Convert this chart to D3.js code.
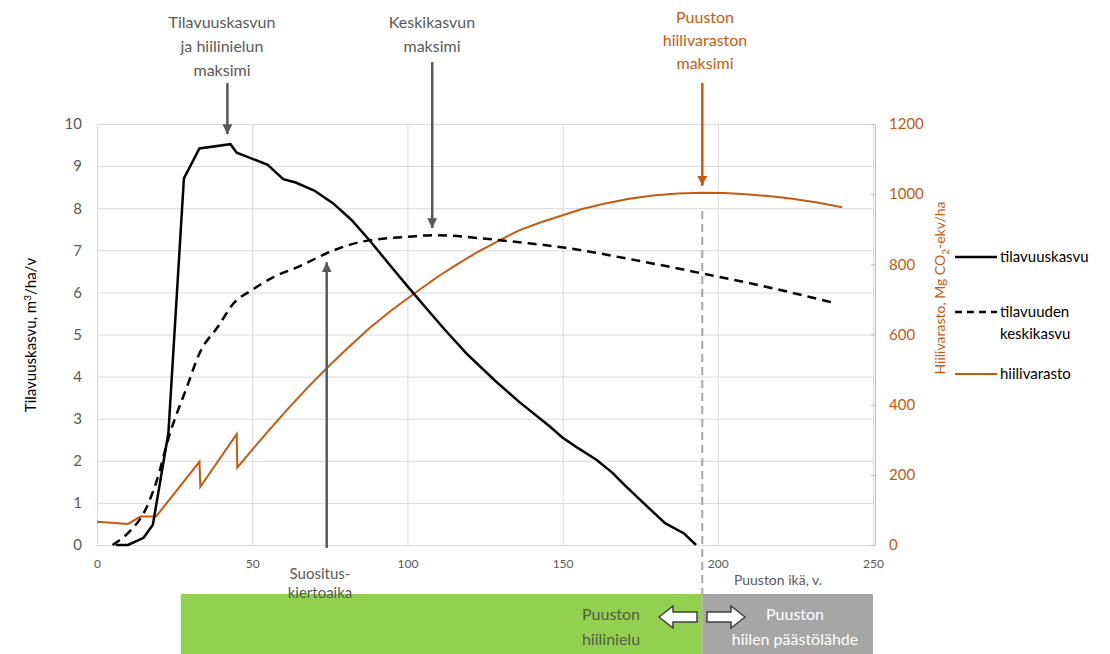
<!DOCTYPE html>
<html>
<head>
<meta charset="utf-8">
<script src="https://cdn.jsdelivr.net/npm/d3@7"></script>
<style>
  body { margin: 0; background: #fff; }
  svg { font-family: Lato, "Open Sans", sans-serif; }
  .grid line { stroke: #d9d9d9; stroke-width: 1; }
  .grid path { display: none; }
  .tick text { fill: #595959; }
</style>
</head>
<body>
<svg width="1110" height="654"></svg>
<script>
// puuston ikä (v) ja tilavuuskasvu (m3/ha/v)
var ageVol = [6, 10, 15, 18, 23, 28, 33, 43, 45, 55, 60, 64, 70, 76, 82, 88, 94, 100, 106, 112, 119, 128, 136, 146, 150, 155, 161, 166, 170, 175, 183, 189, 193]
var volGrowth = [0, 0, 0.17, 0.48, 2.66, 8.71, 9.42, 9.52, 9.32, 9.03, 8.69, 8.61, 8.42, 8.12, 7.72, 7.22, 6.68, 6.15, 5.63, 5.12, 4.55, 3.92, 3.40, 2.81, 2.55, 2.30, 2.02, 1.72, 1.42, 1.07, 0.52, 0.28, 0]

// tilavuuden keskikasvu
var ageMean = [5, 11, 15, 19, 23.5, 29, 33, 39, 44, 50, 57, 65, 74, 85, 100, 109, 123, 136, 151, 171, 195, 214, 238]
var meanGrowth = [0, 0.36, 0.75, 1.47, 2.65, 3.76, 4.55, 5.19, 5.74, 6.06, 6.37, 6.61, 6.93, 7.20, 7.32, 7.36, 7.29, 7.19, 7.06, 6.80, 6.45, 6.16, 5.74]

// hiilivarasto (Mg CO2-ekv/ha)
var ageCarbon = [0, 10, 14, 19, 33, 33.3, 45, 45.2, 51, 56, 62, 68, 74, 80, 88, 95, 103, 110, 116, 123, 130, 136, 143, 150, 156, 163, 171, 179, 187, 195, 202, 209, 217, 224, 232, 240]
var carbon = [66, 60, 81, 81, 237, 166, 316, 221, 282, 333, 393, 450, 504, 555, 620, 670, 722, 766, 800, 837, 870, 897, 920, 940, 957, 972, 986, 996, 1002, 1004, 1003, 1000, 994, 987, 976, 963]

var xTicks = [0, 50, 100, 150, 200, 250]
var leftTicks = [0, 1, 2, 3, 4, 5, 6, 7, 8, 9, 10]
var rightTicks = [0, 200, 400, 600, 800, 1000, 1200]

// key ages used by the annotations
var ageVolMax = 42
var ageMeanMax = 108
var ageRotation = 74
var ageCarbonMax = 195
var barStart = 27

var orange = "#c55a11"
var gray = "#595959"

var svg = d3.select("svg")

var xScale = d3.scaleLinear().domain([0, 250]).range([97, 873])
var yScale = d3.scaleLinear().domain([0, 10]).range([545, 124])
var yRight = d3.scaleLinear().domain([0, 1200]).range([545, 124])

// grid
svg.append("g")
    .classed("grid", true)
    .attr("transform", "translate(97,0)")
    .call(d3.axisLeft(yScale).tickValues(leftTicks).tickSize(-776).tickFormat(""))
svg.append("g")
    .classed("grid", true)
    .attr("transform", "translate(0,545)")
    .call(d3.axisBottom(xScale).tickValues(xTicks).tickSize(-421).tickFormat(""))

// axes
var leftAxis = svg.append("g")
    .attr("transform", "translate(97,0)")
    .call(d3.axisLeft(yScale).tickValues(leftTicks).tickSize(0).tickPadding(15))
leftAxis.select(".domain").remove()
leftAxis.selectAll("text").attr("font-size", 15).attr("font-family", "Lato")

var bottomAxis = svg.append("g")
    .attr("transform", "translate(0,545)")
    .call(d3.axisBottom(xScale).tickValues(xTicks).tickSize(0).tickPadding(14))
bottomAxis.select(".domain").remove()
bottomAxis.selectAll("text").attr("font-size", 12).attr("font-family", "Lato")

var rightAxis = svg.append("g")
    .attr("transform", "translate(875,0)")
    .call(d3.axisRight(yRight).tickValues(rightTicks).tickFormat(d3.format("d")).tickSize(-4).tickPadding(14))
rightAxis.select(".domain").attr("stroke", "#bfbfbf")
rightAxis.selectAll("line").attr("stroke", "#bfbfbf")
rightAxis.selectAll("text").attr("font-size", 15).attr("font-family", "Lato").style("fill", orange)

// axis titles
svg.append("text")
    .attr("transform", "translate(36,335) rotate(-90)")
    .attr("text-anchor", "middle")
    .attr("font-size", 15)
    .attr("fill", "#000")
    .html("Tilavuuskasvu, m<tspan dy='-5' font-size='10'>3</tspan><tspan dy='5'>/ha/v</tspan>")

svg.append("text")
    .attr("transform", "translate(945,288) rotate(-90)")
    .attr("text-anchor", "middle")
    .attr("font-size", 14)
    .attr("fill", orange)
    .html("Hiilivarasto, Mg CO<tspan dy='4' font-size='10'>2</tspan><tspan dy='-4'>-ekv/ha</tspan>")

// bottom bar
var barTop = 594
svg.append("rect")
    .attr("x", xScale(barStart)).attr("y", barTop)
    .attr("width", xScale(ageCarbonMax) - xScale(barStart)).attr("height", 60)
    .attr("fill", "#92d050")
svg.append("rect")
    .attr("x", xScale(ageCarbonMax)).attr("y", barTop)
    .attr("width", xScale(250) - xScale(ageCarbonMax)).attr("height", 60)
    .attr("fill", "#a6a6a6")

// dashed vertical at carbon maximum
svg.append("line")
    .attr("x1", xScale(ageCarbonMax)).attr("x2", xScale(ageCarbonMax))
    .attr("y1", 211).attr("y2", barTop)
    .attr("stroke", "#a6a6a6").attr("stroke-width", 2)
    .attr("stroke-dasharray", "8,5")

// lines
var makeLine = function(ages, yS, curve)
{
    return d3.line()
        .x(function(d, i) { return xScale(ages[i]) })
        .y(function(d) { return yS(d) })
        .curve(curve)
}

svg.append("path")
    .datum(carbon)
    .attr("d", makeLine(ageCarbon, yRight, d3.curveLinear))
    .attr("fill", "none").attr("stroke", orange).attr("stroke-width", 2)

svg.append("path")
    .datum(meanGrowth)
    .attr("d", makeLine(ageMean, yScale, d3.curveMonotoneX))
    .attr("fill", "none").attr("stroke", "#000").attr("stroke-width", 2.5)
    .attr("stroke-dasharray", "9,6")

svg.append("path")
    .datum(volGrowth)
    .attr("d", makeLine(ageVol, yScale, d3.curveLinear))
    .attr("fill", "none").attr("stroke", "#000").attr("stroke-width", 2.5)

// arrows
var defs = svg.append("defs")
var addMarker = function(id, color)
{
    defs.append("marker")
        .attr("id", id)
        .attr("viewBox", "0 0 10 10")
        .attr("refX", 10).attr("refY", 5)
        .attr("markerWidth", 4).attr("markerHeight", 4)
        .attr("markerUnits", "strokeWidth")
        .attr("orient", "auto")
        .append("path")
        .attr("d", "M0,0L10,5L0,10Z")
        .attr("fill", color)
}
addMarker("headGray", gray)
addMarker("headOrange", orange)

var arrow = function(x, y1, y2, color, marker)
{
    svg.append("line")
        .attr("x1", x).attr("x2", x)
        .attr("y1", y1).attr("y2", y2)
        .attr("stroke", color).attr("stroke-width", 2.5)
        .attr("marker-end", "url(#" + marker + ")")
}
arrow(xScale(ageVolMax), 83, yScale(9.52) - 10, gray, "headGray")
arrow(xScale(ageMeanMax), 62, yScale(7.36) - 7, gray, "headGray")
arrow(xScale(ageCarbonMax), 83, yRight(1004) - 7, orange, "headOrange")
arrow(xScale(ageRotation), 548, yScale(6.93) + 9, gray, "headGray")

// annotation texts
var multiText = function(lines, x, y, color, size, step)
{
    var t = svg.append("text")
        .attr("text-anchor", "middle")
        .attr("font-size", size)
        .attr("fill", color)
    lines.forEach(function(l, i)
    {
        t.append("tspan").attr("x", x).attr("y", y + i * step).text(l)
    })
}
multiText(["Tilavuuskasvun", "ja hiilinielun", "maksimi"], 222, 28, gray, 16, 24)
multiText(["Keskikasvun", "maksimi"], 432, 28, gray, 16, 24)
multiText(["Puuston", "hiilivaraston", "maksimi"], 705, 23, orange, 16, 23)
multiText(["Suositus-", "kiertoaika"], 320, 579, gray, 15, 19)
multiText(["Puuston", "hiilinielu"], 611, 620, "#4f5f45", 16, 25)
multiText(["Puuston", "hiilen päästölähde"], 795, 620, "#ffffff", 16, 25)

svg.append("text")
    .attr("x", 778).attr("y", 585)
    .attr("text-anchor", "middle")
    .attr("font-size", 14)
    .attr("fill", gray)
    .text("Puuston ikä, v.")

// hollow arrows in the bar
var hollow = function(tipX, dir)
{
    var cy = 617
    var pts = [[0, 0], [14, -11], [14, -5], [38, -5], [38, 5], [14, 5], [14, 11]]
    svg.append("path")
        .attr("d", "M" + pts.map(function(p) { return (tipX + dir * p[0]) + "," + (cy + p[1]) }).join("L") + "Z")
        .attr("fill", "#fff")
        .attr("stroke", "#404040")
        .attr("stroke-width", 1.5)
}
hollow(659, 1)
hollow(745, -1)

// legend
var legend = svg.append("g").attr("font-size", 15).attr("fill", "#000")
var legendItems = [
    {lines: ["tilavuuskasvu"], y: 257, color: "#000", dash: null, w: 2.5},
    {lines: ["tilavuuden", "keskikasvu"], y: 312, color: "#000", dash: "7,5", w: 2.5},
    {lines: ["hiilivarasto"], y: 374, color: orange, dash: null, w: 2}
]
legendItems.forEach(function(item)
{
    legend.append("line")
        .attr("x1", 955).attr("x2", 997)
        .attr("y1", item.y).attr("y2", item.y)
        .attr("stroke", item.color).attr("stroke-width", item.w)
        .attr("stroke-dasharray", item.dash)
    var t = legend.append("text")
    item.lines.forEach(function(l, i)
    {
        t.append("tspan").attr("x", 1000).attr("y", item.y + 5 + i * 22).text(l)
    })
})
</script>
</body>
</html>
